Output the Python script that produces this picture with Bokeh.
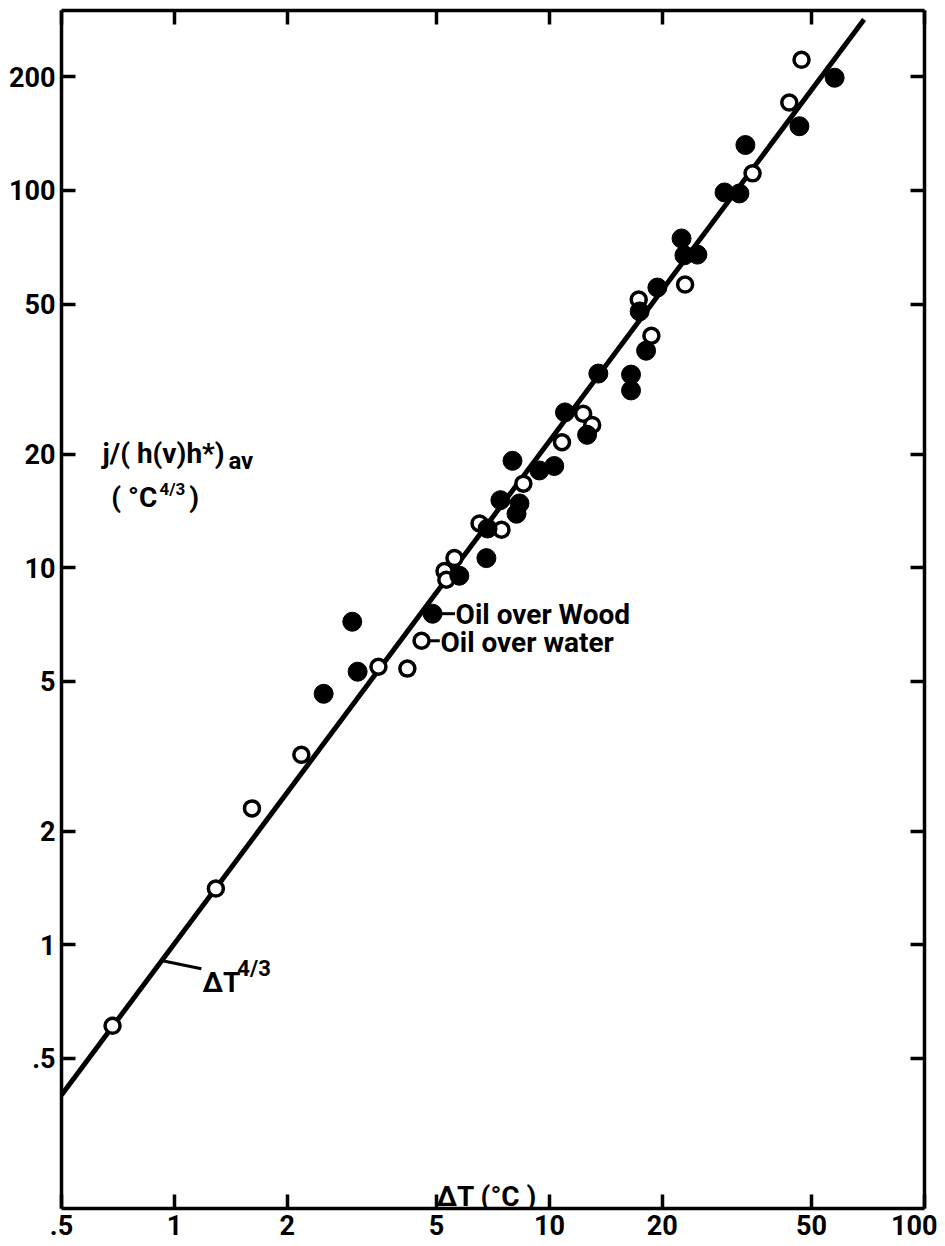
from bokeh.plotting import figure
from bokeh.models import LogAxis, FixedTicker, Label
from bokeh.embed import file_html
from bokeh.resources import INLINE

# ---------------- data ----------------
water_dT = [0.684, 1.29, 1.61, 2.18, 3.50, 4.18, 5.25, 5.31, 5.58, 6.51, 7.45, 8.52,
            10.8, 12.3, 13.0, 17.3, 18.7, 23.0, 34.8, 43.6, 47.0]
water_j = [0.61, 1.41, 2.30, 3.19, 5.46, 5.40, 9.8, 9.29, 10.6, 13.1, 12.6, 16.7,
           21.5, 25.6, 23.9, 51.4, 41.2, 56.3, 111, 171, 222]

wood_dT = [2.50, 2.98, 3.08, 5.75, 6.79, 6.84, 7.40, 7.97, 8.17, 8.32, 9.40, 10.3,
           11.0, 12.6, 13.5, 16.5, 16.5, 17.4, 18.1, 19.4, 22.5, 22.9, 24.8, 29.3,
           32.1, 33.3, 46.4, 57.6]
wood_j = [4.63, 7.19, 5.30, 9.52, 10.6, 12.7, 15.1, 19.2, 13.9, 14.8, 18.1, 18.6,
          25.8, 22.5, 32.7, 32.5, 29.5, 47.8, 37.6, 55.3, 74.6, 67.3, 67.6, 98.8,
          98.2, 132, 148, 199]

# fitted line  j ~ dT^(4/3), end points
fit_dT = [0.5, 69.0]
fit_j = [0.40, 284.0]

x_ticks = [0.5, 1, 2, 5, 10, 20, 50, 100]
x_tick_labels = [".5", "1", "2", "5", "10", "20", "50", "100"]
y_ticks = [0.5, 1, 2, 5, 10, 20, 50, 100, 200]
y_tick_labels = [".5", "1", "2", "5", "10", "20", "50", "100", "200"]

FONT = "Roboto"

# ---------------- figure ----------------
p = figure(width=937, height=1243, x_axis_type="log", y_axis_type="log",
           x_range=(0.5, 100), y_range=(0.2, 300),
           output_backend="svg", toolbar_location=None,
           min_border_left=61, min_border_right=13, min_border_top=10,
           min_border_bottom=35)
p.grid.visible = False
p.outline_line_color = None
p.background_fill_color = "white"
p.border_fill_color = "white"


def style_axis(ax, ticks, labels, show_labels):
    ax.ticker = FixedTicker(ticks=ticks, minor_ticks=[])
    ax.axis_line_width = 3.5
    ax.axis_line_color = "black"
    ax.major_tick_line_width = 3.5
    ax.major_tick_line_color = "black"
    ax.major_tick_in = 14
    ax.major_tick_out = 0
    ax.minor_tick_line_color = None
    ax.major_label_text_font = FONT
    ax.major_label_text_font_style = "bold"
    ax.major_label_text_color = "black"
    if show_labels:
        ax.major_label_overrides = {t: l for t, l in zip(ticks, labels)}
        ax.major_label_text_font_size = "27px"
        ax.major_label_standoff = 6
    else:
        ax.major_label_overrides = {t: "" for t in ticks}
        ax.major_label_text_font_size = "1px"
        ax.major_label_standoff = 0


style_axis(p.xaxis[0], x_ticks, x_tick_labels, True)
style_axis(p.yaxis[0], y_ticks, y_tick_labels, True)

top_ax = LogAxis()
style_axis(top_ax, x_ticks, x_tick_labels, False)
p.add_layout(top_ax, "above")
right_ax = LogAxis()
style_axis(right_ax, y_ticks, y_tick_labels, False)
p.add_layout(right_ax, "right")

# ---------------- glyphs ----------------
p.line(fit_dT, fit_j, line_width=5, line_color="black")
p.scatter(water_dT, water_j, size=15, fill_color="white", line_color="black",
          line_width=3.5)
p.scatter(wood_dT, wood_j, size=19, fill_color="black", line_color="black")

# ---------------- in-plot key ----------------
p.scatter([4.88], [7.55], size=19, fill_color="black", line_color="black")
p.segment(x0=[5.15], y0=[7.55], x1=[5.60], y1=[7.55], line_width=3, line_color="black")
p.scatter([4.56], [6.40], size=15, fill_color="white", line_color="black", line_width=3.5)
p.segment(x0=[4.79], y0=[6.40], x1=[5.10], y1=[6.40], line_width=3, line_color="black")


def add_text(x, y, text, size, baseline="alphabetic"):
    p.add_layout(Label(x=x, y=y, text=text, text_font=FONT, text_font_style="bold",
                       text_font_size=size, text_color="black", text_align="left",
                       text_baseline=baseline))


add_text(5.62, 7.50, "Oil over Wood", "28px", "middle")
add_text(5.12, 6.33, "Oil over water", "28px", "middle")

# line annotation  ΔT^(4/3) with leader
p.segment(x0=[0.929], y0=[0.907], x1=[1.18], y1=[0.864], line_width=3, line_color="black")
add_text(1.188, 0.793, "ΔT", "28px")
add_text(1.472, 0.864, "4/3", "22px")

# y-axis title (inside the frame)
add_text(0.643, 20.1, "j/( h(v)h*)", "28px")
add_text(1.393, 19.2, "av", "24px")
add_text(0.679, 15.3, "( °C", "28px")
add_text(0.912, 16.2, "4/3", "17px")
add_text(1.096, 15.3, ")", "28px")

# x-axis title (inside the frame, above the axis)
add_text(5.0, 0.215, "ΔT (°C )", "28px")

open("out.html", "w").write(file_html(p, INLINE))
